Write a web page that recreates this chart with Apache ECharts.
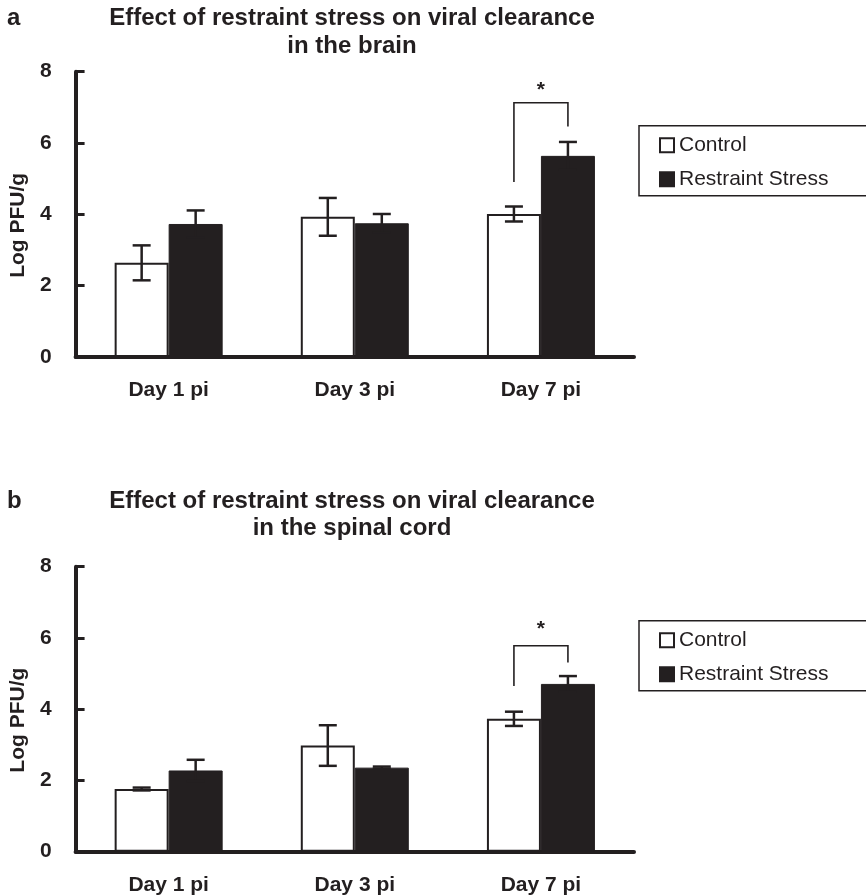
<!DOCTYPE html>
<html><head><meta charset="utf-8">
<script src="https://cdn.jsdelivr.net/npm/echarts@6/dist/echarts.min.js"></script>
<style>html,body{margin:0;padding:0;background:#fff}#c{width:866px;height:896px}</style>
</head><body><div id="c"></div>
<script>
// ---- data ----
const categories = ['Day 1 pi', 'Day 3 pi', 'Day 7 pi'];
const yMin = 0, yMax = 8, yStep = 2;
const seriesNames = ['Control', 'Restraint Stress'];

const brainTitle = 'Effect of restraint stress on viral clearance\nin the brain';
const brainControl = [2.64, 3.93, 4.01];
const brainControlErr = [0.49, 0.53, 0.21];
const brainStress = [3.73, 3.75, 5.64];
const brainStressErr = [0.38, 0.26, 0.39];
// [category index, left leg end, right leg end, bracket top, star]
const brainBracket = [2, 4.91, 6.46, 7.13, 7.54];

const cordTitle = 'Effect of restraint stress on viral clearance\nin the spinal cord';
const cordControl = [1.76, 2.98, 3.73];
const cordControlErr = [0.04, 0.57, 0.20];
const cordStress = [2.28, 2.36, 4.71];
const cordStressErr = [0.30, 0.03, 0.22];
const cordBracket = [2, 4.65, 5.31, 5.78, 6.30];

// ---- styles ----
const INK = '#231f20';
const FONT = '"Liberation Sans", Arial, Helvetica, sans-serif';
const BAR_W = 54;

function errRender(offset) {
  return function (params, api) {
    const x = api.coord([api.value(0), 0])[0] + offset;
    const hi = api.coord([api.value(0), api.value(1) + api.value(2)])[1];
    const lo = api.coord([api.value(0), api.value(1) - api.value(2)])[1];
    const cw = 9;
    const st = { stroke: INK, lineWidth: 2.5 };
    return { type: 'group', children: [
      { type: 'line', shape: { x1: x, y1: hi, x2: x, y2: lo }, style: st },
      { type: 'line', shape: { x1: x - cw, y1: hi, x2: x + cw, y2: hi }, style: st },
      { type: 'line', shape: { x1: x - cw, y1: lo, x2: x + cw, y2: lo }, style: st }
    ]};
  };
}
function bracketRender(params, api) {
  const cx = api.coord([api.value(0), 0])[0];
  const yl = api.coord([api.value(0), api.value(1)])[1];
  const yr = api.coord([api.value(0), api.value(2)])[1];
  const yt = api.coord([api.value(0), api.value(3)])[1];
  const ys = api.coord([api.value(0), api.value(4)])[1];
  const xl = cx - BAR_W / 2, xr = cx + BAR_W / 2;
  return { type: 'group', children: [
    { type: 'polyline', shape: { points: [[xl, yl], [xl, yt], [xr, yt], [xr, yr]] },
      style: { stroke: INK, lineWidth: 1.6, fill: null } },
    { type: 'text', x: cx, y: ys, style: { text: '*', x: 0, y: 2, align: 'center', verticalAlign: 'middle',
      font: 'bold 21px ' + FONT, fill: INK } }
  ]};
}
function toErr(means, errs) { return means.map((m, i) => [i, m, errs[i]]); }

const panels = [
  { top: 71.7, bottom: 896 - 357, title: brainTitle, titleTop: 4, lh: 28, letter: 'a', legendTop: 125.7,
    c: brainControl, ce: brainControlErr, s: brainStress, se: brainStressErr, br: brainBracket },
  { top: 566.7, bottom: 896 - 851.7, title: cordTitle, titleTop: 488, lh: 27, letter: 'b', legendTop: 620.7,
    c: cordControl, ce: cordControlErr, s: cordStress, se: cordStressErr, br: cordBracket }
];

const option = { animation: false, backgroundColor: '#fff',
  title: [], grid: [], xAxis: [], yAxis: [], series: [], legend: [] };

panels.forEach((p, k) => {
  option.title.push({ text: p.letter, left: 7, top: p.titleTop, padding: 0,
    textStyle: { fontFamily: FONT, fontWeight: 'bold', fontSize: 24, lineHeight: p.lh, color: INK } });
  option.title.push({ text: p.title, left: 352, top: p.titleTop, padding: 0, textAlign: 'center',
    textStyle: { fontFamily: FONT, fontWeight: 'bold', fontSize: 24, lineHeight: p.lh, color: INK } });
  option.grid.push({ left: 71.7, right: 232, top: p.top, bottom: p.bottom, containLabel: false });
  option.xAxis.push({ type: 'category', gridIndex: k, data: categories,
    axisLine: { lineStyle: { color: INK, width: 4 } }, axisTick: { show: false },
    axisLabel: { color: INK, fontFamily: FONT, fontWeight: 'bold', fontSize: 21, margin: 23 } });
  option.yAxis.push({ type: 'value', gridIndex: k, min: yMin, max: yMax, interval: yStep,
    name: 'Log PFU/g', nameLocation: 'middle', nameGap: 46,
    nameTextStyle: { color: INK, fontFamily: FONT, fontWeight: 'bold', fontSize: 21, padding: [0, 22, 0, 0] },
    axisLine: { show: true, lineStyle: { color: INK, width: 4 } },
    axisTick: { show: true, inside: true, length: 9, lineStyle: { color: INK, width: 3 } },
    splitLine: { show: false },
    axisLabel: { color: INK, fontFamily: FONT, fontWeight: 'bold', fontSize: 21, margin: 24 } });
  option.series.push({ name: seriesNames[0], type: 'bar', xAxisIndex: k, yAxisIndex: k, data: p.c,
    barWidth: BAR_W, barGap: '0%', itemStyle: { color: '#fff', borderColor: INK, borderWidth: 2 } });
  option.series.push({ name: seriesNames[1], type: 'bar', xAxisIndex: k, yAxisIndex: k, data: p.s,
    barWidth: BAR_W, barGap: '0%', itemStyle: { color: INK, borderColor: INK, borderWidth: 1 } });
  option.series.push({ name: 'err-c', type: 'custom', xAxisIndex: k, yAxisIndex: k, z: 5,
    renderItem: errRender(-BAR_W / 2), data: toErr(p.c, p.ce), encode: { x: 0, y: 1 } });
  option.series.push({ name: 'err-s', type: 'custom', xAxisIndex: k, yAxisIndex: k, z: 5,
    renderItem: errRender(BAR_W / 2), data: toErr(p.s, p.se), encode: { x: 0, y: 1 } });
  option.series.push({ name: 'sig', type: 'custom', xAxisIndex: k, yAxisIndex: k, z: 5,
    renderItem: bracketRender, data: [p.br], encode: { x: 0, y: 3 } });
  option.legend.push({ data: seriesNames, orient: 'vertical', left: 639, top: p.legendTop,
    padding: [9, 60, 6, 20], itemGap: 13, itemWidth: 14, itemHeight: 14, icon: 'rect',
    borderColor: INK, borderWidth: 1.5, selectedMode: false,
    textStyle: { color: INK, fontFamily: FONT, fontSize: 21, lineHeight: 21 } });
});

const chart = echarts.init(document.getElementById('c'), null, { renderer: 'canvas' });
chart.setOption(option);
</script></body></html>
